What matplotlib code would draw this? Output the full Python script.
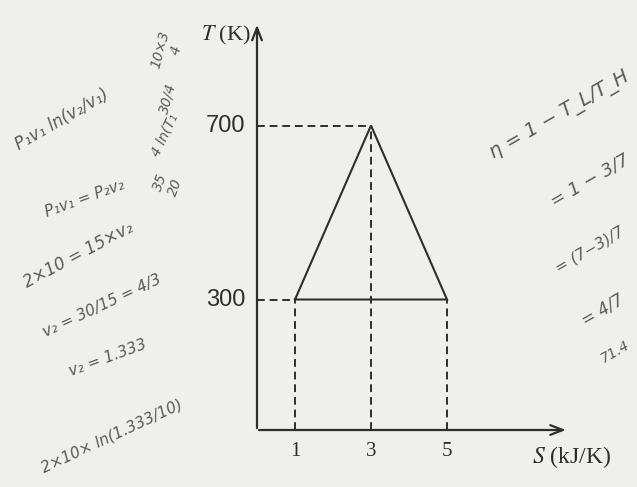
import matplotlib
matplotlib.use('Agg')
import matplotlib.pyplot as plt

plt.rcParams['mathtext.fontset'] = 'stix'

# cycle on the T-S plane
s_cycle = [1, 3, 5, 1]
t_cycle = [300, 700, 300, 300]
s_ticks = [1, 3, 5]
t_ticks = [300, 700]
s_max = 8.2
t_max = 938

ink = '#2e2e2e'
pen = '#5a5a5a'

fig = plt.figure(figsize=(6.37, 4.87), dpi=100)
fig.patch.set_facecolor('#efefed')
ax = fig.add_axes([0, 0, 1, 1])
ax.set_facecolor('#efefed')
ax.set_xlim(-6.763, 10.0)
ax.set_ylim(-131.0, 988.5)
ax.axis('off')

# axes with arrows
ax.annotate('', xy=(s_max, 0), xytext=(-0.02, 0),
            arrowprops=dict(arrowstyle='->,head_length=0.9,head_width=0.35', color=ink, lw=1.6))
ax.annotate('', xy=(0, t_max), xytext=(0, -2),
            arrowprops=dict(arrowstyle='->,head_length=0.9,head_width=0.35', color=ink, lw=1.6))

# triangle
ax.plot(s_cycle, t_cycle, color=ink, lw=1.5, solid_joinstyle='miter')

# dashed guides
dash = dict(color=ink, lw=1.4, ls=(0, (4, 2.5)))
ax.plot([0, s_cycle[1]], [t_cycle[1], t_cycle[1]], **dash)
ax.plot([0, s_cycle[0]], [t_cycle[0], t_cycle[0]], **dash)
for s, t in zip(s_cycle[:3], t_cycle[:3]):
    ax.plot([s, s], [0, t], **dash)

# tick labels
for s in s_ticks:
    ax.text(s, -50, str(s), ha='center', va='center', fontsize=15,
            family='Liberation Serif', color=ink)
for t in t_ticks:
    ax.text(-0.3, t, str(t), ha='right', va='center', fontsize=17,
            family='Liberation Sans', color=ink)

ax.text(7.25, -62, r'$S$ (kJ/K)', ha='left', va='center', fontsize=17,
        family='Liberation Serif', color=ink)
ax.text(-0.15, t_max - 30, r'$T$ (K)', ha='right', va='center', fontsize=16,
        family='Liberation Serif', color=ink)

# handwritten notes around the figure
notes = [
    (168, 52, '10×3\n  4', 10, 75),
    (168, 98, '30/4', 10, 75),
    (165, 135, '4 ln(T₁', 10, 65),
    (168, 185, '35\n20', 10, 70),
    (62, 120, 'P₁v₁ ln(v₂/v₁)', 12, 30),
    (85, 198, 'P₁v₁ = P₂v₂', 11, 20),
    (78, 255, '2×10 = 15×v₂', 12, 28),
    (102, 306, 'v₂ = 30/15 = 4/3', 11, 25),
    (108, 358, 'v₂ = 1.333', 11, 20),
    (112, 436, '2×10× ln(1.333/10)', 11, 25),
    (560, 115, 'η = 1 − T_L/T_H', 14, 30),
    (590, 180, '= 1 − 3/7', 13, 30),
    (590, 250, '= (7−3)/7', 11, 30),
    (603, 310, '= 4/7', 12, 30),
    (615, 352, '71.4', 10, 30),
]
for x, y, txt, size, rot in notes:
    fig.text(x / 637, 1 - y / 487, txt, ha='center', va='center', fontsize=size,
             rotation=rot, color=pen, style='italic', family='DejaVu Sans',
             fontweight='light')

fig.savefig('out.png', dpi=100, facecolor=fig.get_facecolor())
